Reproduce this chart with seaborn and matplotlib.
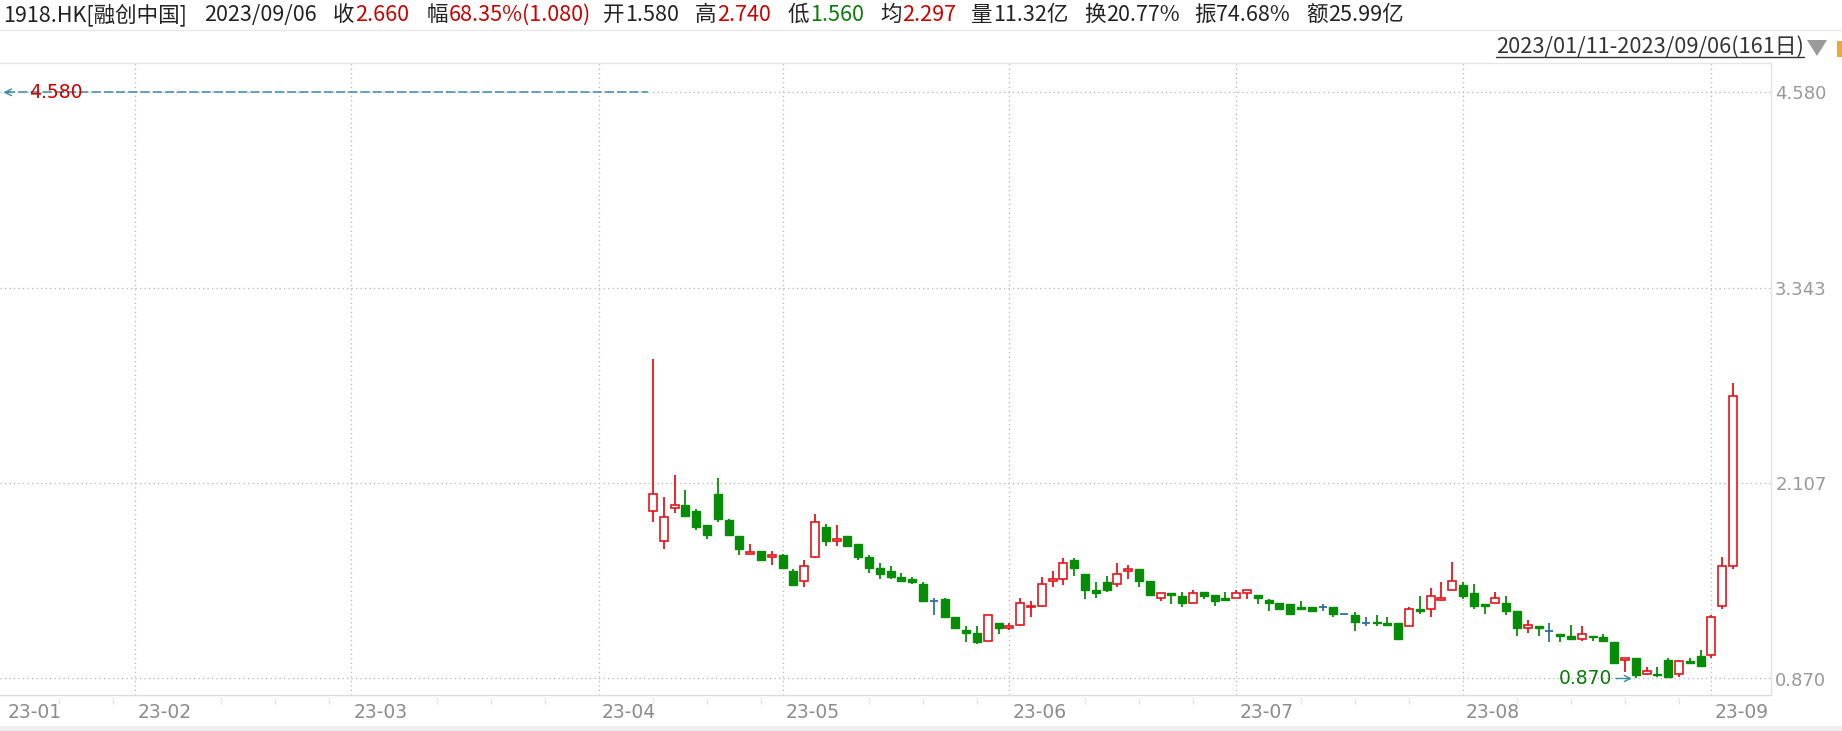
import numpy as np
import pandas as pd
import seaborn as sns
import matplotlib.pyplot as plt
from matplotlib import transforms
from matplotlib.patches import Rectangle, Polygon
from matplotlib.lines import Line2D

# trading days on the axis: 2023/01/11 - 2023/09/06, 161 HK sessions
hk_holidays = ['2023-01-23', '2023-01-24', '2023-01-25', '2023-04-05', '2023-04-07',
               '2023-04-10', '2023-05-01', '2023-05-26', '2023-06-22', '2023-09-01']
trade_days = pd.bdate_range('2023-01-11', '2023-09-06', freq='C', holidays=hk_holidays)
first_bar = '2023-04-13'

# daily candles
opens = [1.93, 1.74, 1.95, 1.97, 1.93, 1.84, 2.04, 1.87, 1.77, 1.66,
         1.68, 1.64, 1.65, 1.55, 1.49, 1.64, 1.83, 1.74, 1.77, 1.72,
         1.64, 1.57, 1.55, 1.51, 1.50, 1.47, 1.36, 1.37, 1.26, 1.18,
         1.16, 1.11, 1.22, 1.19, 1.21, 1.32, 1.33, 1.49, 1.50, 1.62,
         1.53, 1.43, 1.48, 1.47, 1.55, 1.56, 1.49, 1.38, 1.41, 1.39,
         1.35, 1.42, 1.40, 1.38, 1.38, 1.41, 1.40, 1.37, 1.35, 1.34,
         1.32, 1.32, 1.32, 1.32, 1.28, 1.27, 1.22, 1.23, 1.22, 1.22,
         1.20, 1.31, 1.31, 1.37, 1.43, 1.46, 1.41, 1.34, 1.35, 1.35,
         1.30, 1.19, 1.20, 1.17, 1.15, 1.14, 1.12, 1.14, 1.13, 1.10,
         0.99, 1.00, 0.90, 0.90, 0.99, 0.90, 0.98, 1.01, 1.02, 1.33,
         1.58]
highs = [2.89, 2.02, 2.16, 2.06, 1.94, 1.84, 2.14, 1.88, 1.77, 1.72,
         1.68, 1.68, 1.66, 1.56, 1.62, 1.91, 1.85, 1.84, 1.77, 1.72,
         1.65, 1.60, 1.58, 1.54, 1.51, 1.48, 1.38, 1.38, 1.26, 1.20,
         1.20, 1.27, 1.22, 1.22, 1.38, 1.36, 1.51, 1.55, 1.63, 1.63,
         1.53, 1.48, 1.52, 1.60, 1.59, 1.56, 1.49, 1.41, 1.41, 1.42,
         1.43, 1.42, 1.40, 1.42, 1.43, 1.43, 1.40, 1.37, 1.35, 1.34,
         1.36, 1.32, 1.34, 1.32, 1.28, 1.29, 1.26, 1.27, 1.26, 1.22,
         1.32, 1.39, 1.44, 1.48, 1.61, 1.48, 1.47, 1.34, 1.42, 1.39,
         1.30, 1.24, 1.20, 1.22, 1.15, 1.21, 1.20, 1.14, 1.15, 1.10,
         1.00, 1.00, 0.94, 0.94, 1.00, 0.99, 1.00, 1.05, 1.27, 1.64,
         2.74]
lows = [1.86, 1.69, 1.92, 1.90, 1.81, 1.75, 1.86, 1.78, 1.65, 1.66,
        1.62, 1.59, 1.57, 1.46, 1.45, 1.63, 1.71, 1.71, 1.71, 1.62,
        1.54, 1.50, 1.50, 1.48, 1.47, 1.36, 1.27, 1.25, 1.19, 1.10,
        1.09, 1.11, 1.15, 1.18, 1.20, 1.26, 1.32, 1.45, 1.46, 1.52,
        1.37, 1.38, 1.42, 1.45, 1.50, 1.45, 1.40, 1.36, 1.34, 1.32,
        1.35, 1.37, 1.33, 1.37, 1.38, 1.37, 1.34, 1.30, 1.31, 1.28,
        1.31, 1.30, 1.30, 1.26, 1.28, 1.17, 1.20, 1.20, 1.20, 1.12,
        1.20, 1.28, 1.26, 1.36, 1.43, 1.37, 1.31, 1.28, 1.35, 1.27,
        1.14, 1.16, 1.14, 1.10, 1.10, 1.12, 1.11, 1.11, 1.11, 0.97,
        0.91, 0.87, 0.89, 0.88, 0.88, 0.88, 0.96, 0.95, 1.00, 1.31,
        1.56]
closes = [2.04, 1.89, 1.97, 1.90, 1.83, 1.78, 1.88, 1.78, 1.69, 1.67,
          1.62, 1.65, 1.57, 1.46, 1.58, 1.86, 1.74, 1.75, 1.71, 1.64,
          1.57, 1.53, 1.51, 1.49, 1.48, 1.36, 1.36, 1.26, 1.19, 1.16,
          1.10, 1.27, 1.19, 1.20, 1.35, 1.33, 1.47, 1.50, 1.60, 1.57,
          1.43, 1.41, 1.43, 1.53, 1.56, 1.49, 1.40, 1.41, 1.40, 1.35,
          1.41, 1.39, 1.36, 1.37, 1.41, 1.43, 1.38, 1.35, 1.31, 1.28,
          1.31, 1.30, 1.32, 1.28, 1.28, 1.23, 1.22, 1.22, 1.21, 1.12,
          1.31, 1.30, 1.39, 1.38, 1.49, 1.39, 1.33, 1.33, 1.38, 1.30,
          1.19, 1.21, 1.19, 1.17, 1.14, 1.12, 1.15, 1.13, 1.11, 0.97,
          1.00, 0.89, 0.92, 0.89, 0.88, 0.98, 0.97, 0.95, 1.26, 1.58,
          2.66]

y_ticks = [0.870, 2.107, 3.343, 4.580]
max_mark = 4.580

header_code = '1918.HK[融创中国]'
header_date = '2023/09/06'
header_keys = ['收', '幅', '开', '高', '低', '均', '量', '换', '振', '额']
header_vals = ['2.660', '68.35%(1.080)', '1.580', '2.740', '1.560', '2.297',
               '11.32亿', '20.77%', '74.68%', '25.99亿']
range_text = '2023/01/11-2023/09/06(161日)'

UP = '#e8141c'
DOWN = '#078c07'
FLAT = '#2f6f9f'
TEAL = '#3a8ca3'
GRID = '#b5b5b5'
CJK = ['Noto Sans CJK SC', 'DejaVu Sans']

df = pd.DataFrame({'open': opens, 'high': highs, 'low': lows, 'close': closes})
start = trade_days.get_loc(pd.Timestamp(first_bar))
df['idx'] = np.arange(start, start + len(df))

sns.set_theme(style='white')
plt.rcParams['font.family'] = ['DejaVu Sans']

W, H = 1842, 731
fig = plt.figure(figsize=(W / 100, H / 100), dpi=100)
fx = lambda px: px / W
fy = lambda py: 1 - py / H

ax_top, ax_bot, ax_right = 63, 695, 1771
ax = fig.add_axes([0, fy(ax_bot), fx(ax_right), (ax_bot - ax_top) / H])

# index -> pixel is 5 + 10.8 * i
ax.set_xlim(-5 / 10.8, (ax_right - 5) / 10.8)
ax.set_ylim(0.870 - (ax_bot - 678.5) / 158, 0.870 + (678.5 - ax_top) / 158)

# grid
dot = (0, (1, 2.6))
for yv in y_ticks:
    ax.axhline(yv, color=GRID, lw=0.9, ls=dot, zorder=0)
month_idx = [i for i in range(1, len(trade_days)) if trade_days[i].month != trade_days[i - 1].month]
for i in month_idx:
    ax.axvline(i, color=GRID, lw=0.9, ls=dot, zorder=0)

# candles
up = df[df.close > df.open]
down = df[df.close < df.open]
flat = df[df.close == df.open]
wick_col = np.where(df.close > df.open, UP, np.where(df.close < df.open, DOWN, FLAT))
ax.vlines(df.idx, df.low, df.high, colors=wick_col, lw=1.3, zorder=2)
bw = 0.74
ax.bar(up.idx, up.close - up.open, bottom=up.open, width=bw,
       facecolor='white', edgecolor=UP, lw=1.2, zorder=3)
ax.bar(down.idx, down.open - down.close, bottom=down.close, width=bw,
       facecolor=DOWN, edgecolor=DOWN, lw=1.0, zorder=3)
ax.hlines(flat.close, flat.idx - bw / 2, flat.idx + bw / 2, colors=FLAT, lw=1.3, zorder=3)

# highest price marker (off to the left)
x0 = ax.get_xlim()[0]
ax.plot([x0 + 0.6, start - 0.5], [max_mark, max_mark], color=TEAL, lw=1.1,
        ls=(0, (6, 2)), zorder=1)
ax.annotate('', xy=(x0 + 0.05, max_mark), xytext=(x0 + 1.2, max_mark),
            arrowprops=dict(arrowstyle='->', color=TEAL, lw=1.0, mutation_scale=12))
ax.text(2.2, max_mark, f'{max_mark:.3f}', color='#cc0000', fontsize=13.5,
        ha='left', va='center', zorder=4)

# lowest price marker
imin = df.loc[df.low.idxmin(), 'idx']
lmin = df.low.min()
ax.annotate('', xy=(imin - 0.1, lmin), xytext=(imin - 2.1, lmin),
            arrowprops=dict(arrowstyle='->', color=TEAL, lw=1.0, mutation_scale=11))
ax.text(imin - 2.2, lmin, f'{lmin:.3f}', color='#0a7a0a', fontsize=13.5,
        ha='right', va='center', zorder=4)

# axes look
ax.yaxis.tick_right()
ax.set_yticks(y_ticks)
ax.set_yticklabels([f'{v:.3f}' for v in y_ticks])
ax.tick_params(axis='y', length=0, pad=3, labelcolor='#999999', labelsize=13)
ax.set_xticks([])
ax.spines['left'].set_visible(False)
ax.spines['top'].set_color('#e6e6e6')
ax.spines['bottom'].set_color('#dcdcdc')
ax.spines['right'].set_color('#e2e2e2')
for s in ['top', 'bottom', 'right']:
    ax.spines[s].set_linewidth(1)

# month labels and minor ticks under the axis
lab_tr = transforms.offset_copy(ax.get_xaxis_transform(), fig=fig, x=3, y=-17, units='dots')
for i in [0] + month_idx:
    ax.text(i, 0, trade_days[i].strftime('%y-%m'), transform=lab_tr, color='#8c8c8c',
            fontsize=13.5, ha='left', va='center')
tick_tr = ax.get_xaxis_transform()
starts = [0] + month_idx
for i in range(5, len(trade_days), 5):
    if any(0 <= i - m < 5 for m in starts):
        continue
    ax.plot([i, i], [-0.004, -0.016], transform=tick_tr, color='#d0d0d0', lw=0.8,
            ls=(0, (1, 1)), clip_on=False)

# header
fig.add_artist(Line2D([0, 1], [fy(30), fy(30)], color='#e8e8e8', lw=1))
hy = fy(15)
hfs = 15.5
fig.text(fx(3), hy, header_code, family=CJK, fontsize=hfs, color='#222222', va='center')
fig.text(fx(204), hy, header_date, family=CJK, fontsize=hfs, color='#222222', va='center')
key_x = [333, 427, 603, 695, 788, 880, 971, 1084, 1194, 1306]
val_col = ['#cc0000', '#cc0000', '#222222', '#cc0000', '#0a7a0a', '#cc0000',
           '#222222', '#222222', '#222222', '#222222']
for k, v, x, c in zip(header_keys, header_vals, key_x, val_col):
    fig.text(fx(x), hy, k, family=CJK, fontsize=hfs, color='#222222', va='center')
    fig.text(fx(x + 22), hy, v, family=CJK, fontsize=hfs, color=c, va='center')

# date range selector
fig.text(fx(1496), fy(47), range_text, family=CJK, fontsize=15.7, color='#333333', va='center')
fig.add_artist(Line2D([fx(1496), fx(1804)], [fy(57), fy(57)], color='#333333', lw=1))
fig.add_artist(Polygon([[fx(1807), fy(40)], [fx(1827), fy(40)], [fx(1817), fy(56)]],
                       closed=True, facecolor='#9a9a9a', edgecolor='none'))
fig.add_artist(Rectangle((fx(1837), fy(57)), fx(5), 16 / H, facecolor='#f0a830', edgecolor='none'))

# bottom strip
fig.add_artist(Rectangle((0, 0), 1, 5 / H, facecolor='#efefef', edgecolor='none'))

fig.savefig('out.png', dpi=100)
